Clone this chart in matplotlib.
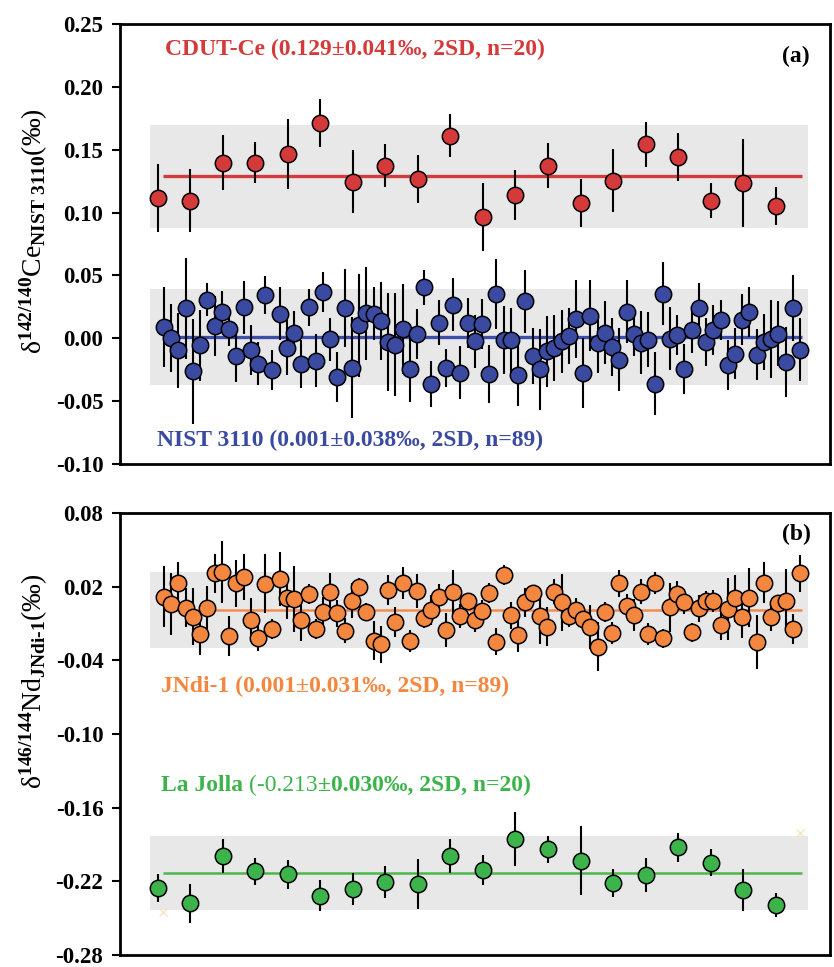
import numpy as np
import matplotlib
matplotlib.use('Agg')
import matplotlib.pyplot as plt

plt.rcParams['font.family'] = ['Liberation Serif', 'DejaVu Serif']
plt.rcParams['font.weight'] = 'bold'
plt.rcParams['mathtext.fontset'] = 'custom'
plt.rcParams['mathtext.rm'] = 'Liberation Serif:bold'
plt.rcParams['mathtext.it'] = 'Liberation Serif:bold'
plt.rcParams['mathtext.bf'] = 'Liberation Serif:bold'

# ---------------- data ----------------
cdut_ce = [0.1114, 0.1093, 0.1398, 0.1398, 0.1467, 0.1712, 0.1247, 0.1374, 0.1265, 0.1613,
           0.0968, 0.1140, 0.1374, 0.1074, 0.1252, 0.1544, 0.1441, 0.1095, 0.1233, 0.1053]
cdut_ce_err = [0.027, 0.025, 0.022, 0.016, 0.028, 0.019, 0.025, 0.017, 0.019, 0.017,
               0.027, 0.020, 0.018, 0.019, 0.025, 0.018, 0.019, 0.014, 0.035, 0.015]

nist3110 = [0.0090, 0.0003, -0.0096, 0.0237, -0.0263, -0.0056, 0.0308, 0.0098, 0.0213, 0.0072,
            -0.0141, 0.0245, -0.0096, -0.0202, 0.0343, -0.0255, 0.0194, -0.0074, 0.0045, -0.0202,
            0.0245, -0.0178, 0.0369, -0.0008, -0.0308, 0.0239, -0.0234, 0.0104, 0.0199, 0.0197,
            0.0136, -0.0029, -0.0050, 0.0074, -0.0245, 0.0032, 0.0404, -0.0364, 0.0125, -0.0237,
            0.0266, -0.0274, 0.0120, -0.0024, 0.0112, -0.0287, 0.0351, -0.0016, -0.0016, -0.0290,
            0.0295, -0.0141, -0.0247, -0.0104, -0.0077, -0.0024, 0.0019, 0.0157, -0.0274, 0.0181,
            -0.0035, 0.0043, -0.0069, -0.0170, 0.0210, 0.0037, -0.0035, -0.0011, -0.0362, 0.0356,
            -0.0003, 0.0024, -0.0242, 0.0069, 0.0237, -0.0029, 0.0064, 0.0144, -0.0210, -0.0122,
            0.0149, 0.0207, -0.0130, -0.0029, -0.0003, 0.0037, -0.0189, 0.0242, -0.0090]
nist3110_err = [0.032, 0.027, 0.030, 0.040, 0.042, 0.028, 0.013, 0.024, 0.016, 0.013,
                0.021, 0.021, 0.020, 0.017, 0.015, 0.016, 0.021, 0.022, 0.017, 0.019,
                0.015, 0.021, 0.016, 0.017, 0.020, 0.031, 0.040, 0.041, 0.037, 0.021,
                0.031, 0.039, 0.041, 0.036, 0.026, 0.020, 0.014, 0.018, 0.018, 0.015,
                0.021, 0.021, 0.020, 0.021, 0.020, 0.023, 0.028, 0.027, 0.026, 0.025,
                0.025, 0.022, 0.032, 0.028, 0.026, 0.025, 0.022, 0.031, 0.028, 0.028,
                0.024, 0.025, 0.023, 0.025, 0.025, 0.018, 0.025, 0.022, 0.025, 0.025,
                0.025, 0.016, 0.020, 0.019, 0.020, 0.019, 0.020, 0.016, 0.020, 0.020,
                0.020, 0.020, 0.020, 0.022, 0.031, 0.026, 0.028, 0.026, 0.025]

jndi1 = [0.0119, 0.0059, 0.0233, 0.0029, -0.0044, -0.0188, 0.0029, 0.0309, 0.0319, -0.0202,
         0.0227, 0.0279, -0.0071, -0.0215, 0.0222, -0.0147, 0.0260, 0.0110, 0.0100, -0.0071,
         0.0138, -0.0145, -0.0004, 0.0159, -0.0017, -0.0158, 0.0086, 0.0200, -0.0004, -0.0240,
         -0.0270, 0.0173, -0.0088, 0.0233, -0.0240, 0.0165, -0.0058, 0.0010, 0.0119, -0.0153,
         0.0159, -0.0039, 0.0083, -0.0071, 0.0002, 0.0146, -0.0248, 0.0295, -0.0031, -0.0194,
         0.0072, 0.0146, -0.0039, -0.0126, 0.0159, 0.0072, -0.0036, 0.0010, -0.0066, -0.0131,
         -0.0289, -0.0004, -0.0175, 0.0227, 0.0043, -0.0031, 0.0159, -0.0188, 0.0233, -0.0221,
         0.0032, 0.0138, 0.0078, -0.0172, 0.0024, 0.0083, 0.0083, -0.0112, 0.0018, 0.0105,
         -0.0050, 0.0110, -0.0248, 0.0233, -0.0050, 0.0064, 0.0083, -0.0145, 0.0309]
jndi1_err = [0.025, 0.025, 0.017, 0.016, 0.023, 0.017, 0.018, 0.016, 0.025, 0.016,
             0.019, 0.019, 0.018, 0.011, 0.024, 0.008, 0.022, 0.017, 0.027, 0.017,
             0.008, 0.008, 0.012, 0.015, 0.011, 0.010, 0.014, 0.007, 0.007, 0.016,
             0.015, 0.012, 0.012, 0.013, 0.009, 0.014, 0.008, 0.012, 0.010, 0.014,
             0.018, 0.010, 0.006, 0.010, 0.009, 0.008, 0.011, 0.008, 0.011, 0.014,
             0.012, 0.007, 0.023, 0.016, 0.010, 0.023, 0.009, 0.010, 0.009, 0.018,
             0.020, 0.008, 0.009, 0.011, 0.010, 0.013, 0.010, 0.009, 0.009, 0.008,
             0.020, 0.011, 0.010, 0.008, 0.011, 0.008, 0.009, 0.012, 0.025, 0.019,
             0.017, 0.024, 0.022, 0.017, 0.011, 0.006, 0.026, 0.012, 0.015]

la_jolla = [-0.2257, -0.2379, -0.1994, -0.2116, -0.2143, -0.2317, -0.2262, -0.2203, -0.2222, -0.1994,
            -0.2108, -0.1858, -0.1937, -0.2032, -0.2216, -0.2148, -0.1923, -0.2048, -0.2271, -0.2393]
la_jolla_err = [0.0115, 0.016, 0.014, 0.011, 0.012, 0.0125, 0.013, 0.013, 0.020, 0.0136,
                0.012, 0.022, 0.011, 0.028, 0.0115, 0.0136, 0.012, 0.011, 0.017, 0.010]

cdut_mean, cdut_2sd = 0.129, 0.041
nist_mean, nist_2sd = 0.001, 0.038
jndi_mean, jndi_2sd = 0.001, 0.031
lj_mean, lj_2sd = -0.213, 0.030

top_yticks = [0.25, 0.20, 0.15, 0.10, 0.05, 0.00, -0.05, -0.10]
bot_yticks = [0.08, 0.02, -0.04, -0.10, -0.16, -0.22, -0.28]

label_cdut = 'CDUT-Ce (0.129±0.041‰, 2SD, n=20)'
label_nist = 'NIST 3110 (0.001±0.038‰, 2SD, n=89)'
label_jndi = 'JNdi-1 (0.001±0.031‰, 2SD, n=89)'
label_lj_a = 'La Jolla '
label_lj_b = '(-0.213'
label_lj_c = '±0.030‰, 2SD, n=20)'

# run positions (89-run sequence; 20-run series spread over same span)
x_long = np.arange(1, len(nist3110) + 1)
x_short = 0.13 + 4.5 * np.arange(len(cdut_ce))
band_x = [-1.0, 90.1]
line_x = [0.86, 89.3]
XLIM = (-5.09, 93.15)

RED, RED_L = '#d53a3a', '#d43c3c'
BLUE, BLUE_L = '#3a4aa0', '#3c4eaa'
ORANGE, ORANGE_L = '#f3873f', '#f28c50'
GREEN, GREEN_L = '#3cb44b', '#4cb84c'
BAND = '#e8e8e8'

W, H = 834, 967
fig = plt.figure(figsize=(W / 100, H / 100), dpi=100)
ax1 = fig.add_axes([120 / W, (H - 464) / H, 710 / W, 440 / H])
ax2 = fig.add_axes([120 / W, (H - 955) / H, 710 / W, 442 / H])


def series(ax, x, y, e, mean, sd, col, lcol, lw):
    ax.fill_between(band_x, mean - sd, mean + sd, color=BAND, lw=0, zorder=0)
    ax.plot(line_x, [mean, mean], color=lcol, lw=lw, zorder=1, solid_capstyle='butt')
    ax.errorbar(x, y, yerr=e, fmt='o', ms=11.8, mfc=col, mec='black', mew=1.1,
                ecolor='black', elinewidth=1.5, capsize=0, zorder=3)


series(ax1, x_short, cdut_ce, cdut_ce_err, cdut_mean, cdut_2sd, RED, RED_L, 2.4)
series(ax1, x_long, nist3110, nist3110_err, nist_mean, nist_2sd, BLUE, BLUE_L, 2.4)
series(ax2, x_long, jndi1, jndi1_err, jndi_mean, jndi_2sd, ORANGE, ORANGE_L, 1.8)
series(ax2, x_short, la_jolla, la_jolla_err, lj_mean, lj_2sd, GREEN, GREEN_L, 1.8)

# faint leftover markers at band corners in panel b
ax2.plot([line_x[0], 89.0], [lj_mean - lj_2sd - 0.002, lj_mean + lj_2sd + 0.0024],
         ls='none', marker='x', ms=6, color='#f6e2b8', mew=0.9, zorder=1)

for ax, ticks in ((ax1, top_yticks), (ax2, bot_yticks)):
    ax.set_xlim(*XLIM)
    ax.set_ylim(ticks[-1], ticks[0])
    ax.set_yticks(ticks)
    ax.set_yticklabels(['%.2f' % t for t in ticks])
    ax.set_xticks([])
    ax.tick_params(axis='y', direction='out', length=6, width=1.5, labelsize=16.5, pad=6)
    for s in ax.spines.values():
        s.set_linewidth(2.0)
        s.set_color('black')

ax1.set_ylabel(r'δ$^{142/140}$Ce$_{NIST\ 3110}$(‰)', fontsize=20, labelpad=10)
ax2.set_ylabel(r'δ$^{146/144}$Nd$_{JNdi\text{-}1}$(‰)', fontsize=20, labelpad=10)
ax1.yaxis.set_label_coords(-0.098, 0.53)
ax2.yaxis.set_label_coords(-0.098, 0.62)

FS = 17
ax1.text(1.1, 0.2297, label_cdut, color=RED, fontsize=FS, fontweight='bold', va='center', ha='left')
ax1.text(86.5, 0.224, '(a)', color='black', fontsize=FS, fontweight='bold', va='center', ha='left')
ax1.text(0.0, -0.0815, label_nist, color=BLUE, fontsize=FS, fontweight='bold', va='center', ha='left')
ax2.text(86.5, 0.0625, '(b)', color='black', fontsize=FS, fontweight='bold', va='center', ha='left')
ax2.text(0.6, -0.061, label_jndi, color=ORANGE, fontsize=FS, fontweight='bold', va='center', ha='left')
t1 = ax2.text(0.6, -0.1465, label_lj_a, color=GREEN, fontsize=FS, fontweight='bold', va='baseline', ha='left')
t2 = ax2.annotate(label_lj_b, xy=(1, 0), xycoords=t1, color=GREEN, fontsize=FS, fontweight='normal',
                  va='bottom', ha='left')
ax2.annotate(label_lj_c, xy=(1, 0), xycoords=t2, color=GREEN, fontsize=FS, fontweight='bold',
             va='bottom', ha='left')

fig.savefig('out.png', dpi=100)
